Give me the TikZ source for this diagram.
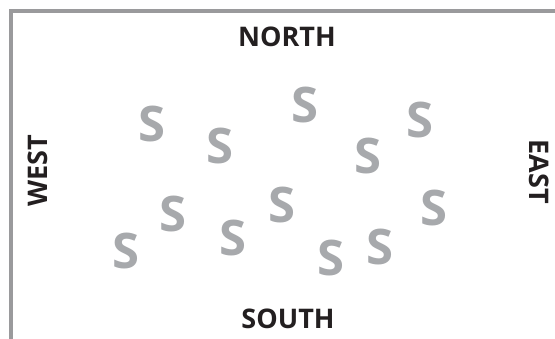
\documentclass[tikz,border=0pt]{standalone}
\usepackage{fontspec}
\setmainfont{Open Sans}
\usepackage{xcolor}
\usetikzlibrary{positioning}
\definecolor{frameline}{HTML}{9A9A9C}
\definecolor{sgray}{HTML}{A7A9AC}
\definecolor{ink}{HTML}{231F20}
\tikzset{
  dirlabel/.style={font=\fontsize{27}{27}\selectfont\bfseries,text=ink,inner sep=0pt},
  sletter/.style={font=\fontsize{49}{49}\selectfont\bfseries,text=sgray,inner sep=0pt},
  vframe/.style={line width=4.5pt,draw=frameline}
}

\begin{document}
\begin{tikzpicture}[x=1pt,y=-1pt]
  \useasboundingbox (0,0) rectangle (555,339);
  \coordinate (fbot) at (11,339);
  \coordinate (fcorner) at (11,11);
  \coordinate (fright) at (555,11);
  \draw[vframe] (fbot) -- (fcorner) -- (fright);
  \node[dirlabel] (north) at (287,37) {NORTH};
  \node[dirlabel] (south) at (288,319) {SOUTH};
  \node[dirlabel,rotate=90] (west) at (38,171) {WEST};
  \node[dirlabel,rotate=-90] (east) at (539,172) {EAST};
  % scattered S marks
  \foreach \i/\x/\y/\r in {1/152/124/0, 2/220/146/0, 3/305/105/0, 4/420/120/0,
      5/368/156/0, 6/173/214/0, 7/126/251/0, 8/233/238/0, 9/282/205/0,
      10/434/208/0, 11/380/247/0, 12/331/258/0}
    \node[sletter,rotate=\r] (s\i) at (\x,\y) {S};
\end{tikzpicture}
\end{document}
